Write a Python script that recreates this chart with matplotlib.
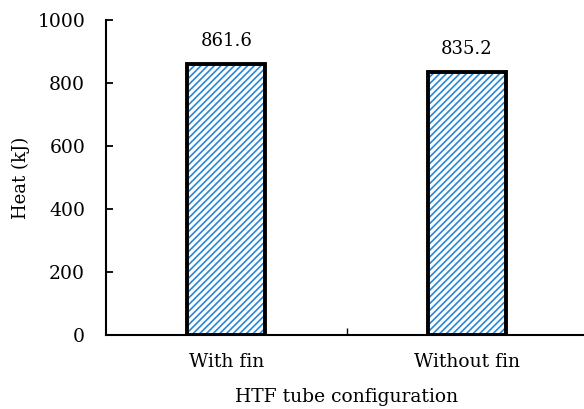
import matplotlib.pyplot as plt

categories = ['With fin', 'Without fin']
heat = [861.6, 835.2]
value_labels = ['861.6', '835.2']

plt.rcParams['font.family'] = 'DejaVu Serif'
plt.rcParams['hatch.linewidth'] = 1.2

fig = plt.figure(figsize=(5.84, 4.09), dpi=100)
ax = fig.add_axes([106 / 584, 1 - 335 / 409, 481 / 584, 315 / 409])

x = list(range(len(categories)))
# hatch layer in blue, then black outline on top
ax.bar(x, heat, width=0.325, color='white', edgecolor='#2a86d4',
       hatch='/////', linewidth=0)
ax.bar(x, heat, width=0.325, fill=False, edgecolor='black', linewidth=2.8)

for xi, h, lab in zip(x, heat, value_labels):
    ax.annotate(lab, (xi, h), xytext=(0, 10), textcoords='offset points',
                ha='center', va='bottom', fontsize=13)

ax.set_xlim(-0.5, 1.5)
ax.set_ylim(0, 1000)
ax.set_yticks(range(0, 1001, 200))
ax.set_xticks(x)
ax.set_xticklabels(categories, fontsize=13.5)
ax.set_xticks([0.5], minor=True)
ax.tick_params(axis='x', which='major', length=0, pad=13)
ax.tick_params(axis='x', which='minor', direction='in', length=5, width=1)
ax.tick_params(axis='y', direction='in', length=5, width=1.3, labelsize=13.5, pad=15)

ax.spines['top'].set_visible(False)
ax.spines['right'].set_visible(False)
ax.spines['left'].set_linewidth(1.5)
ax.spines['bottom'].set_linewidth(1.5)

ax.set_ylabel('Heat (kJ)', fontsize=13, labelpad=5)
ax.set_xlabel('HTF tube configuration', fontsize=13.5, labelpad=12)

fig.savefig('out.png', dpi=100)
